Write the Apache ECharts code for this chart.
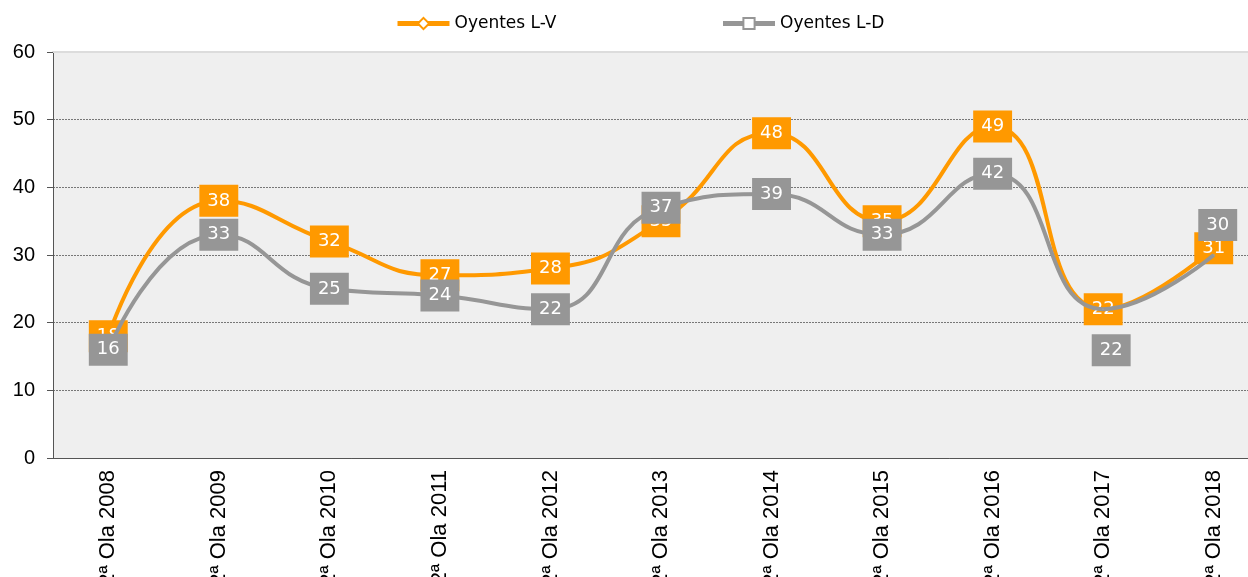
<!DOCTYPE html>
<html>
<head>
<meta charset="utf-8">
<script src="https://cdn.jsdelivr.net/npm/echarts@6/dist/echarts.min.js"></script>
<style>
  html, body { margin: 0; padding: 0; background: #fff; }
  #chart { width: 1248px; height: 577px; }
</style>
</head>
<body>
<div id="chart"></div>
<script>
// oleadas
var categories = ['2ª Ola 2008', '2ª Ola 2009', '2ª Ola 2010', '2ª Ola 2011', '2ª Ola 2012',
  '2ª Ola 2013', '2ª Ola 2014', '2ª Ola 2015', '2ª Ola 2016', '2ª Ola 2017', '2ª Ola 2018'];

var oyentesLV = [18, 38, 32, 27, 28, 35, 48, 35, 49, 22, 31];
var oyentesLD = [16, 33, 25, 24, 22, 37, 39, 33, 42, 22, 30];

// etiquetas desplazadas en la serie L-D (indice -> [dx, dy])
var offsetsLD = { 9: [8, 41], 10: [4, -30] };

var yTicks = [0, 10, 20, 30, 40, 50, 60];

var ORANGE = '#ff9900';
var GREY = '#969696';

var myChart = echarts.init(document.getElementById('chart'));

function labelBox(color) {
  return {
    show: true,
    position: 'inside',
    color: '#fff',
    fontFamily: 'DejaVu Sans',
    fontSize: 18,
    lineHeight: 20,
    backgroundColor: color,
    padding: [6, 8, 6, 8]
  };
}

var dataLD = oyentesLD.map(function (v, i) {
  if (offsetsLD[i]) {
    return { value: v, label: { offset: offsetsLD[i] } };
  }
  return v;
});

var option = {
  animation: false,
  backgroundColor: '#fff',
  legend: {
    left: 390,
    top: 10,
    itemWidth: 52,
    itemHeight: 14,
    itemGap: 164,
    lineStyle: { width: 5 },
    textStyle: { fontFamily: 'DejaVu Sans', fontSize: 17, color: '#000' },
    data: ['Oyentes L-V', 'Oyentes L-D']
  },
  grid: {
    left: 53,
    right: -21,
    top: 52,
    bottom: 119,
    outerBoundsMode: 'none',
    containLabel: false,
    show: true,
    backgroundColor: '#efefef',
    borderWidth: 0
  },
  xAxis: [{
    type: 'category',
    data: categories,
    boundaryGap: true,
    axisLine: { lineStyle: { color: '#555', width: 1 } },
    axisTick: { length: 6, lineStyle: { color: '#555' } },
    axisLabel: {
      rotate: 90,
      margin: 12,
      fontFamily: 'Liberation Sans',
      fontSize: 22,
      color: '#000'
    }
  }, {
    type: 'category',
    position: 'top',
    data: categories,
    axisLine: { lineStyle: { color: '#dcdcdc', width: 2 } },
    axisTick: { show: false },
    axisLabel: { show: false }
  }],
  yAxis: {
    type: 'value',
    min: yTicks[0],
    max: yTicks[yTicks.length - 1],
    interval: 10,
    axisLine: { show: true, lineStyle: { color: '#555', width: 1 } },
    axisTick: { show: true, length: 6, lineStyle: { color: '#555' } },
    axisLabel: {
      margin: 18,
      fontFamily: 'Liberation Sans',
      fontSize: 20,
      color: '#000'
    },
    splitLine: { lineStyle: { color: '#777', type: [2, 1], width: 1 } }
  },
  series: [{
    name: 'Oyentes L-V',
    type: 'line',
    smooth: 0.5,
    data: oyentesLV,
    symbol: 'diamond',
    symbolSize: 1,
    lineStyle: { color: ORANGE, width: 4 },
    itemStyle: { color: '#fff', borderColor: ORANGE, borderWidth: 1 },
    label: labelBox(ORANGE),
    z: 3
  }, {
    name: 'Oyentes L-D',
    type: 'line',
    smooth: 0.5,
    data: dataLD,
    symbol: 'rect',
    symbolSize: 1,
    lineStyle: { color: GREY, width: 4 },
    itemStyle: { color: '#fff', borderColor: GREY, borderWidth: 1 },
    label: labelBox(GREY),
    z: 4
  }]
};

myChart.setOption(option);
</script>
</body>
</html>
